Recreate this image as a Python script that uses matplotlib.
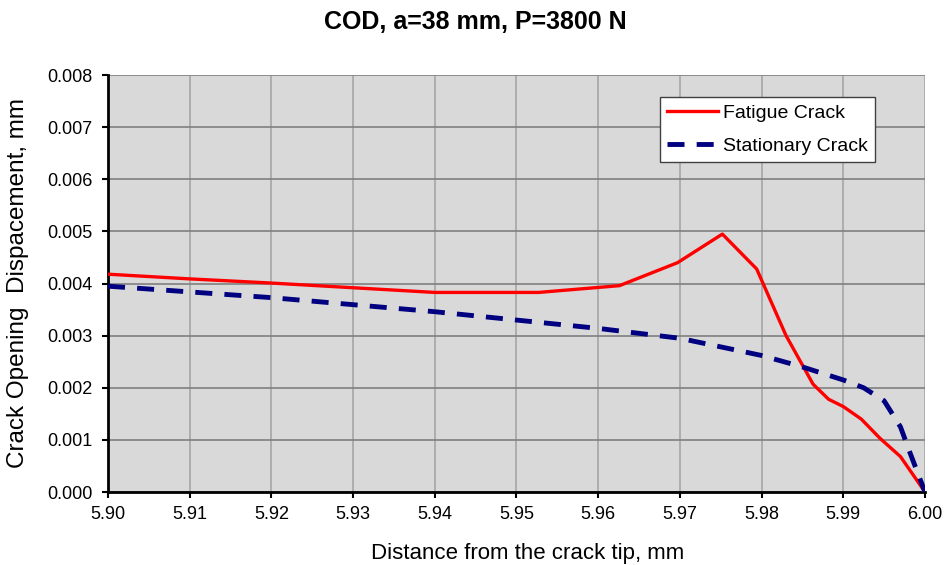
import numpy as np
import matplotlib
matplotlib.use("Agg")
import matplotlib.pyplot as plt

plt.rcParams['font.family'] = ['Liberation Sans', 'DejaVu Sans']

# fatigue crack
fat_x = [5.900, 5.910, 5.920, 5.930, 5.940, 5.9527, 5.9626, 5.9697, 5.9752,
         5.9794, 5.983, 5.9863, 5.9882, 5.9900, 5.9922, 5.9945, 5.9970, 6.000]
fat_y = [0.00418, 0.00409, 0.00401, 0.00392, 0.00383, 0.00383, 0.00396, 0.00440,
         0.00495, 0.00428, 0.00300, 0.00207, 0.00178, 0.00164, 0.00140, 0.00103,
         0.00068, 0.0]

# stationary crack
sta_x = [5.900, 5.920, 5.940, 5.950, 5.960, 5.970, 5.980, 5.985, 5.990,
         5.9925, 5.995, 5.997, 5.9982, 6.000]
sta_y = [0.00395, 0.00373, 0.00346, 0.00330, 0.00314, 0.00295, 0.00262, 0.00240,
         0.00215, 0.00200, 0.00175, 0.00125, 0.00074, 0.0]

fig = plt.figure(figsize=(9.45, 5.65), dpi=100)
ax = fig.add_axes([0.1143, 0.1292, 0.8645, 0.7378])
ax.set_facecolor('#d9d9d9')

ax.plot(fat_x, fat_y, color='#ff0000', lw=2.4, label='Fatigue Crack', zorder=3)
ax.plot(sta_x, sta_y, color='#000080', lw=3.5, ls=(0, (3.5, 2.5)),
        label='Stationary Crack', zorder=3)

ax.set_xlim(5.90, 6.00)
ax.set_ylim(0, 0.008)
ax.set_xticks(np.arange(5.90, 6.001, 0.01))
ax.set_yticks(np.arange(0, 0.0081, 0.001))
ax.xaxis.set_major_formatter(matplotlib.ticker.FormatStrFormatter('%.2f'))
ax.yaxis.set_major_formatter(matplotlib.ticker.FormatStrFormatter('%.3f'))
ax.tick_params(labelsize=13, length=4, width=1.5, color='black')
ax.tick_params(axis='y', pad=7)
ax.tick_params(axis='x', pad=6)

ax.yaxis.grid(True, color='#808080', lw=1.2)
ax.xaxis.grid(True, color='#a6a6a6', lw=1.2)
ax.set_axisbelow(True)
for s in ['top', 'right']:
    ax.spines[s].set_visible(False)
for s in ['left', 'bottom']:
    ax.spines[s].set_linewidth(2)

# labels placed like the Excel chart area
fig.text(0.5587, 0.0212, 'Distance from the crack tip, mm', fontsize=16,
         ha='center', va='center')
fig.text(0.019, 0.5, 'Crack Opening  Dispacement, mm', fontsize=17.5,
         ha='center', va='center', rotation=90)
fig.text(0.5026, 0.961, 'COD, a=38 mm, P=3800 N', fontsize=18,
         fontweight='bold', ha='center', va='center')

leg = ax.legend(loc='upper right', bbox_to_anchor=(0.939, 0.947), fontsize=14,
                frameon=True, fancybox=False, edgecolor='#404040', framealpha=1,
                handlelength=2.6, handletextpad=0.3, borderpad=0.35,
                labelspacing=0.8, borderaxespad=0)
leg.get_frame().set_linewidth(1)

fig.savefig('out.png', dpi=100, facecolor='white')
